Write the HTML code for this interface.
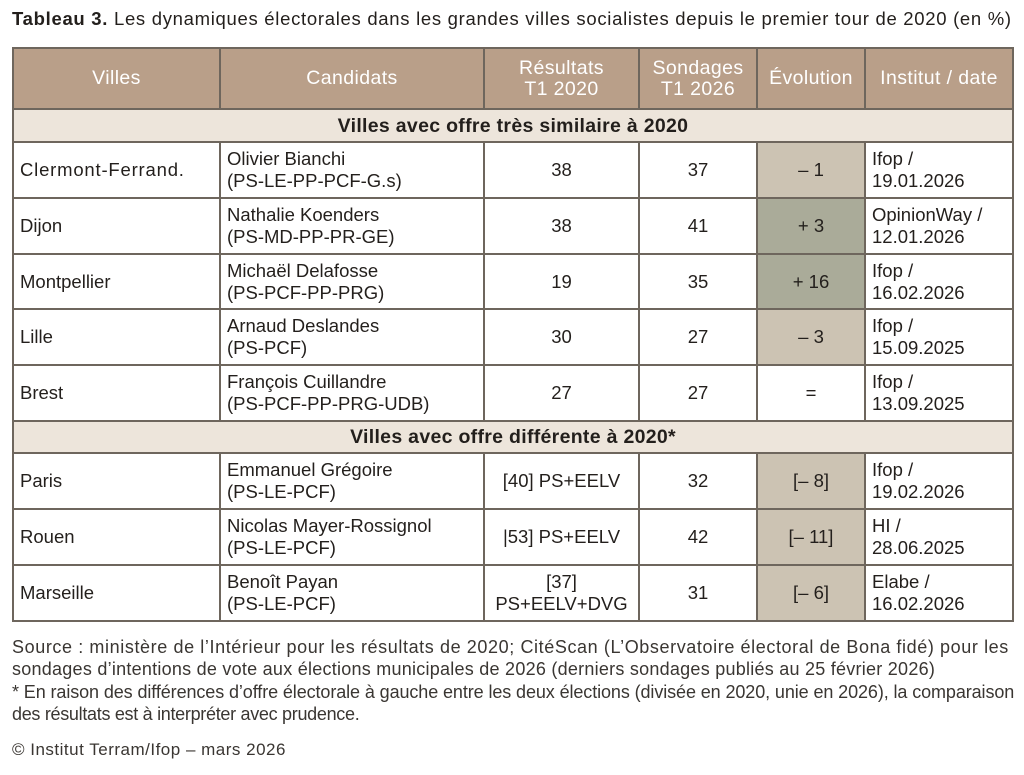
<!DOCTYPE html>
<html><head><meta charset="utf-8"><style>
body{margin:0;width:1024px;height:775px;background:#fff;font-family:"Liberation Sans",sans-serif;color:#231f1c;position:relative;overflow:hidden}
.t{position:absolute;white-space:nowrap}
table{position:absolute;left:12px;top:47px;border-collapse:collapse;table-layout:fixed}
td{border:2px solid #6e665d;padding:0 6px;font-size:18.5px;line-height:22px;white-space:nowrap}
.h td{background:#b99f89;color:#fff;text-align:center;font-size:19.5px;line-height:21px;letter-spacing:0.4px}
.s td{background:#ede5db;text-align:center;font-weight:bold;font-size:19.5px;letter-spacing:0.3px}
.c{text-align:center}
.e{background:#ccc3b3;text-align:center}
.g{background:#aaab99;text-align:center}
.f{position:absolute;left:12px;font-size:18px;color:#3a3632;white-space:nowrap}
</style></head><body>
<div class="t" style="left:12px;top:8px;font-size:18.5px;letter-spacing:0.7px"><b>Tableau 3.</b> Les dynamiques électorales dans les grandes villes socialistes depuis le premier tour de 2020 (en %)</div>
<table>
<colgroup><col style="width:207px"><col style="width:264px"><col style="width:155px"><col style="width:118px"><col style="width:108px"><col style="width:148px"></colgroup>
<tr class="h" style="height:61px"><td>Villes</td><td>Candidats</td><td>Résultats<br>T1 2020</td><td>Sondages<br>T1 2026</td><td>Évolution</td><td>Institut / date</td></tr>
<tr class="s" style="height:33px"><td colspan="6">Villes avec offre très similaire à 2020</td></tr>
<tr style="height:56px"><td style="letter-spacing:0.8px">Clermont-Ferrand.</td><td>Olivier Bianchi<br>(PS-LE-PP-PCF-G.s)</td><td class="c">38</td><td class="c">37</td><td class="e">– 1</td><td>Ifop /<br>19.01.2026</td></tr>
<tr style="height:56px"><td>Dijon</td><td>Nathalie Koenders<br>(PS-MD-PP-PR-GE)</td><td class="c">38</td><td class="c">41</td><td class="g">+ 3</td><td>OpinionWay /<br>12.01.2026</td></tr>
<tr style="height:55px"><td>Montpellier</td><td>Michaël Delafosse<br>(PS-PCF-PP-PRG)</td><td class="c">19</td><td class="c">35</td><td class="g">+ 16</td><td>Ifop /<br>16.02.2026</td></tr>
<tr style="height:56px"><td>Lille</td><td>Arnaud Deslandes<br>(PS-PCF)</td><td class="c">30</td><td class="c">27</td><td class="e">– 3</td><td>Ifop /<br>15.09.2025</td></tr>
<tr style="height:56px"><td>Brest</td><td>François Cuillandre<br>(PS-PCF-PP-PRG-UDB)</td><td class="c">27</td><td class="c">27</td><td class="c">=</td><td>Ifop /<br>13.09.2025</td></tr>
<tr class="s" style="height:32px"><td colspan="6">Villes avec offre différente à 2020*</td></tr>
<tr style="height:56px"><td>Paris</td><td>Emmanuel Grégoire<br>(PS-LE-PCF)</td><td class="c">[40] PS+EELV</td><td class="c">32</td><td class="e">[– 8]</td><td>Ifop /<br>19.02.2026</td></tr>
<tr style="height:56px"><td>Rouen</td><td>Nicolas Mayer-Rossignol<br>(PS-LE-PCF)</td><td class="c">|53] PS+EELV</td><td class="c">42</td><td class="e">[– 11]</td><td>HI /<br>28.06.2025</td></tr>
<tr style="height:56px"><td>Marseille</td><td>Benoît Payan<br>(PS-LE-PCF)</td><td class="c">[37]<br>PS+EELV+DVG</td><td class="c">31</td><td class="e">[– 6]</td><td>Elabe /<br>16.02.2026</td></tr>
</table>
<div class="f" style="top:637px;letter-spacing:0.6px">Source : ministère de l’Intérieur pour les résultats de 2020; CitéScan (L’Observatoire électoral de Bona fidé) pour les</div>
<div class="f" style="top:659px;letter-spacing:0.25px">sondages d’intentions de vote aux élections municipales de 2026 (derniers sondages publiés au 25 février 2026)</div>
<div class="f" style="top:682px;letter-spacing:-0.1px">* En raison des différences d’offre électorale à gauche entre les deux élections (divisée en 2020, unie en 2026), la comparaison</div>
<div class="f" style="top:704px;letter-spacing:-0.3px">des résultats est à interpréter avec prudence.</div>
<div class="f" style="top:740px;font-size:17px;letter-spacing:0.5px">© Institut Terram/Ifop – mars 2026</div>
</body></html>
